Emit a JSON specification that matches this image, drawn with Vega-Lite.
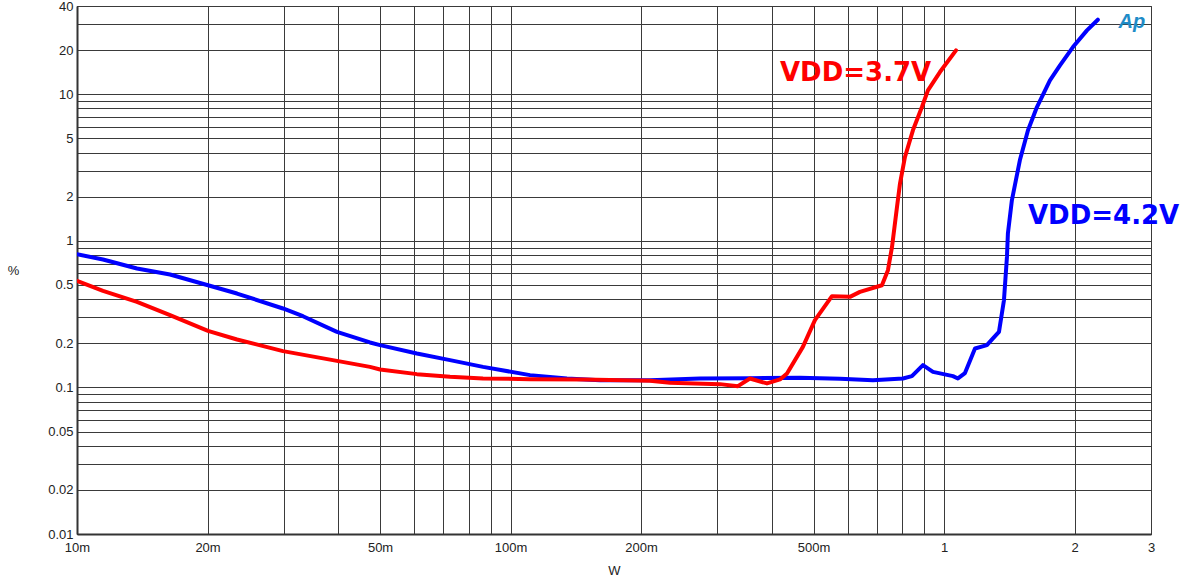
{
  "$schema": "https://vega.github.io/schema/vega-lite/v6.json",
  "width": 1074,
  "height": 528,
  "autosize": "none",
  "padding": {"left": 77, "top": 6, "right": 31, "bottom": 46},
  "background": "white",
  "config": {
    "view": {"stroke": "#222", "strokeWidth": 1},
    "font": "Liberation Sans",
    "axis": {"labelFont": "Liberation Sans", "labelFontSize": 13, "labelColor": "#222", "titleFont": "Liberation Sans", "titleFontWeight": "normal", "titleFontSize": 13, "titleColor": "#222", "gridColor": "#3a3a3a", "gridOpacity": 1, "gridWidth": 1, "ticks": false, "domainColor": "#333", "domainWidth": 2}
  },
  "datasets": {
    "curves": [
      {"series": "VDD=4.2V", "W": 0.0100, "pct": 0.810},
      {"series": "VDD=4.2V", "W": 0.01148, "pct": 0.746},
      {"series": "VDD=4.2V", "W": 0.01375, "pct": 0.647},
      {"series": "VDD=4.2V", "W": 0.01639, "pct": 0.589},
      {"series": "VDD=4.2V", "W": 0.02005, "pct": 0.498},
      {"series": "VDD=4.2V", "W": 0.02339, "pct": 0.437},
      {"series": "VDD=4.2V", "W": 0.02986, "pct": 0.3455},
      {"series": "VDD=4.2V", "W": 0.0332, "pct": 0.306},
      {"series": "VDD=4.2V", "W": 0.03977, "pct": 0.2393},
      {"series": "VDD=4.2V", "W": 0.04739, "pct": 0.2026},
      {"series": "VDD=4.2V", "W": 0.05, "pct": 0.1942},
      {"series": "VDD=4.2V", "W": 0.0608, "pct": 0.1705},
      {"series": "VDD=4.2V", "W": 0.0725, "pct": 0.1535},
      {"series": "VDD=4.2V", "W": 0.0864, "pct": 0.1381},
      {"series": "VDD=4.2V", "W": 0.1109, "pct": 0.1213},
      {"series": "VDD=4.2V", "W": 0.1349, "pct": 0.1151},
      {"series": "VDD=4.2V", "W": 0.1608, "pct": 0.1121},
      {"series": "VDD=4.2V", "W": 0.2097, "pct": 0.1121},
      {"series": "VDD=4.2V", "W": 0.2734, "pct": 0.1151},
      {"series": "VDD=4.2V", "W": 0.3565, "pct": 0.1157},
      {"series": "VDD=4.2V", "W": 0.4649, "pct": 0.1162},
      {"series": "VDD=4.2V", "W": 0.575, "pct": 0.1148},
      {"series": "VDD=4.2V", "W": 0.6851, "pct": 0.1121},
      {"series": "VDD=4.2V", "W": 0.8035, "pct": 0.1151},
      {"series": "VDD=4.2V", "W": 0.8427, "pct": 0.1194},
      {"series": "VDD=4.2V", "W": 0.8936, "pct": 0.1419},
      {"series": "VDD=4.2V", "W": 0.9424, "pct": 0.1277},
      {"series": "VDD=4.2V", "W": 1.048, "pct": 0.1194},
      {"series": "VDD=4.2V", "W": 1.076, "pct": 0.1151},
      {"series": "VDD=4.2V", "W": 1.117, "pct": 0.1252},
      {"series": "VDD=4.2V", "W": 1.178, "pct": 0.1844},
      {"series": "VDD=4.2V", "W": 1.255, "pct": 0.1942},
      {"series": "VDD=4.2V", "W": 1.296, "pct": 0.2158},
      {"series": "VDD=4.2V", "W": 1.338, "pct": 0.2393},
      {"series": "VDD=4.2V", "W": 1.374, "pct": 0.3936},
      {"series": "VDD=4.2V", "W": 1.396, "pct": 0.777},
      {"series": "VDD=4.2V", "W": 1.403, "pct": 1.121},
      {"series": "VDD=4.2V", "W": 1.433, "pct": 1.891},
      {"series": "VDD=4.2V", "W": 1.495, "pct": 3.543},
      {"series": "VDD=4.2V", "W": 1.561, "pct": 5.675},
      {"series": "VDD=4.2V", "W": 1.637, "pct": 8.18},
      {"series": "VDD=4.2V", "W": 1.754, "pct": 12.44},
      {"series": "VDD=4.2V", "W": 1.850, "pct": 15.74},
      {"series": "VDD=4.2V", "W": 1.982, "pct": 20.98},
      {"series": "VDD=4.2V", "W": 2.135, "pct": 27.26},
      {"series": "VDD=4.2V", "W": 2.262, "pct": 32.25},
      {"series": "VDD=3.7V", "W": 0.0100, "pct": 0.533},
      {"series": "VDD=3.7V", "W": 0.01148, "pct": 0.4556},
      {"series": "VDD=3.7V", "W": 0.01375, "pct": 0.3834},
      {"series": "VDD=3.7V", "W": 0.01639, "pct": 0.311},
      {"series": "VDD=3.7V", "W": 0.02005, "pct": 0.243},
      {"series": "VDD=3.7V", "W": 0.02339, "pct": 0.2124},
      {"series": "VDD=3.7V", "W": 0.02986, "pct": 0.1768},
      {"series": "VDD=3.7V", "W": 0.03977, "pct": 0.1518},
      {"series": "VDD=3.7V", "W": 0.04739, "pct": 0.1381},
      {"series": "VDD=3.7V", "W": 0.05, "pct": 0.1326},
      {"series": "VDD=3.7V", "W": 0.0608, "pct": 0.1232},
      {"series": "VDD=3.7V", "W": 0.0725, "pct": 0.1181},
      {"series": "VDD=3.7V", "W": 0.0864, "pct": 0.1151},
      {"series": "VDD=3.7V", "W": 0.1109, "pct": 0.1139},
      {"series": "VDD=3.7V", "W": 0.1469, "pct": 0.1134},
      {"series": "VDD=3.7V", "W": 0.2097, "pct": 0.1109},
      {"series": "VDD=3.7V", "W": 0.2332, "pct": 0.1075},
      {"series": "VDD=3.7V", "W": 0.3040, "pct": 0.1053},
      {"series": "VDD=3.7V", "W": 0.3345, "pct": 0.102},
      {"series": "VDD=3.7V", "W": 0.3565, "pct": 0.1151},
      {"series": "VDD=3.7V", "W": 0.3903, "pct": 0.1065},
      {"series": "VDD=3.7V", "W": 0.4182, "pct": 0.1134},
      {"series": "VDD=3.7V", "W": 0.4341, "pct": 0.1245},
      {"series": "VDD=3.7V", "W": 0.4723, "pct": 0.1891},
      {"series": "VDD=3.7V", "W": 0.5035, "pct": 0.2876},
      {"series": "VDD=3.7V", "W": 0.5512, "pct": 0.4193},
      {"series": "VDD=3.7V", "W": 0.6064, "pct": 0.4147},
      {"series": "VDD=3.7V", "W": 0.6394, "pct": 0.4485},
      {"series": "VDD=3.7V", "W": 0.7187, "pct": 0.498},
      {"series": "VDD=3.7V", "W": 0.742, "pct": 0.6304},
      {"series": "VDD=3.7V", "W": 0.7582, "pct": 0.9087},
      {"series": "VDD=3.7V", "W": 0.7785, "pct": 1.702},
      {"series": "VDD=3.7V", "W": 0.7910, "pct": 2.458},
      {"series": "VDD=3.7V", "W": 0.8122, "pct": 3.733},
      {"series": "VDD=3.7V", "W": 0.8472, "pct": 5.675},
      {"series": "VDD=3.7V", "W": 0.8888, "pct": 8.18},
      {"series": "VDD=3.7V", "W": 0.9175, "pct": 10.63},
      {"series": "VDD=3.7V", "W": 0.9779, "pct": 14.17},
      {"series": "VDD=3.7V", "W": 1.065, "pct": 19.92}
    ],
    "labels": [
      {"series": "VDD=3.7V", "text": "VDD=3.7V", "W": 0.4182, "pct": 13.88},
      {"series": "VDD=4.2V", "text": "VDD=4.2V", "W": 1.561, "pct": 1.472}
    ],
    "logo": [
      {"text": "Ap", "W": 2.711, "pct": 30.9}
    ]
  },
  "layer": [
    {
      "data": {"name": "curves"},
      "mark": {"type": "line", "strokeWidth": 4, "strokeJoin": "round", "strokeCap": "round", "clip": true},
      "encoding": {
        "x": {
          "field": "W", "type": "quantitative",
          "scale": {"type": "log", "domain": [0.01, 3], "nice": false},
          "axis": {
            "title": "W", "titleX": 537, "titleY": 36, "titleBaseline": "middle", "titleAlign": "center",
            "values": [0.01,0.02,0.03,0.04,0.05,0.06,0.07,0.08,0.09,0.1,0.2,0.3,0.4,0.5,0.6,0.7,0.8,0.9,1,2,3],
            "labelExpr": "datum.value==0.01?'10m':datum.value==0.02?'20m':datum.value==0.05?'50m':datum.value==0.1?'100m':datum.value==0.2?'200m':datum.value==0.5?'500m':datum.value==1?'1':datum.value==2?'2':datum.value==3?'3':''",
            "labelOverlap": false, "labelPadding": 7, "labelFlush": false
          }
        },
        "y": {
          "field": "pct", "type": "quantitative",
          "scale": {"type": "log", "domain": [0.01, 40], "nice": false},
          "axis": {
            "title": "%", "titleAngle": 0, "titleX": -64, "titleY": 264, "titleAlign": "center", "titleBaseline": "middle",
            "values": [0.01,0.02,0.03,0.04,0.05,0.06,0.07,0.08,0.09,0.1,0.2,0.3,0.4,0.5,0.6,0.7,0.8,0.9,1,2,3,4,5,6,7,8,9,10,20,30,40],
            "format": "~g",
            "labelExpr": "indexof([0.01,0.02,0.05,0.1,0.2,0.5,1,2,5,10,20,40], datum.value) >= 0 ? datum.label : ''",
            "labelOverlap": false, "labelPadding": 4, "labelFlush": false
          }
        },
        "color": {
          "field": "series", "type": "nominal",
          "scale": {"domain": ["VDD=3.7V", "VDD=4.2V"], "range": ["#ff0000", "#0000ff"]},
          "legend": null
        }
      }
    },
    {
      "data": {"name": "labels"},
      "mark": {"type": "text", "font": "DejaVu Sans", "fontWeight": "bold", "fontSize": 26, "align": "left", "baseline": "middle"},
      "encoding": {
        "x": {"field": "W", "type": "quantitative"},
        "y": {"field": "pct", "type": "quantitative"},
        "text": {"field": "text"},
        "color": {"field": "series", "type": "nominal", "legend": null}
      }
    },
    {
      "data": {"name": "logo"},
      "mark": {"type": "text", "font": "Liberation Sans", "fontStyle": "italic", "fontWeight": "bold", "fontSize": 20, "align": "center", "baseline": "middle", "color": "#1e8cc8"},
      "encoding": {
        "x": {"field": "W", "type": "quantitative"},
        "y": {"field": "pct", "type": "quantitative"},
        "text": {"field": "text"}
      }
    }
  ]
}
